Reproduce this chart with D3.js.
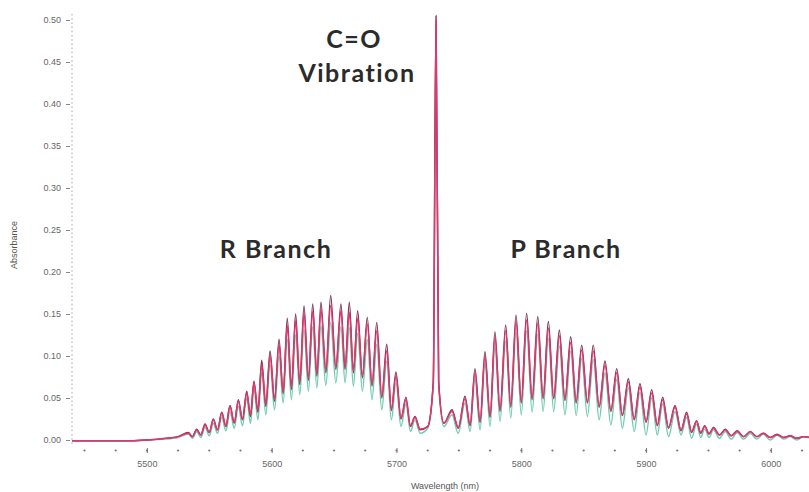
<!DOCTYPE html>
<html>
<head>
<meta charset="utf-8">
<script src="https://cdn.jsdelivr.net/npm/d3@7"></script>
<style>
  body { margin: 0; background: #fff; }
  svg { display: block; }
  .tick text { font-family: "Liberation Sans", Arial, sans-serif; font-size: 9px; fill: #666; }
</style>
</head>
<body>
<svg id="chart" width="809" height="492"></svg>
<script>
// spectrum nodes: alternating peak / trough positions of the rotational lines (nm)
var nodeWl = [
    5440, 5460, 5480, 5500, 5515, 5525,
    5533.2, 5536.5, 5539.9, 5543.2, 5546.6, 5550.0, 5553.2, 5556.6, 5560.0, 5563.3,
    5566.6, 5570.0, 5573.3, 5576.6, 5580.0, 5583.0, 5585.8, 5589.0, 5592.0, 5595.3,
    5598.7, 5602.3, 5605.9, 5609.2, 5612.5, 5615.8, 5619.2, 5622.5, 5625.9, 5629.4,
    5632.9, 5636.2, 5639.5, 5643.4, 5647.3, 5651.4, 5655.5, 5658.8, 5662.2, 5665.5,
    5668.9, 5672.7, 5676.6, 5680.4, 5684.2, 5688.2, 5692.2, 5695.9, 5699.6, 5703.6,
    5707.6, 5711.2, 5714.8, 5719.0,
    5725.0, 5729.5, 5731.7, 5733.8, 5738.0,
    5744.5, 5749.5, 5754.9, 5759.0, 5762.9, 5767.0, 5770.9, 5775.0, 5778.9, 5783.0,
    5787.5, 5791.6, 5795.8, 5800.0, 5804.3, 5808.7, 5813.2, 5817.5, 5821.7, 5826.0,
    5830.5, 5835.0, 5839.6, 5844.0, 5848.4, 5853.0, 5857.7, 5862.4, 5867.1, 5871.8,
    5876.5, 5881.0, 5885.8, 5890.5, 5895.1, 5900.0, 5904.5, 5909.0, 5913.3, 5918.0,
    5923.2, 5928.0, 5932.5, 5936.5, 5940.5, 5943.8, 5947.0, 5950.5, 5954.0, 5958.8,
    5963.5, 5968.2, 5973.0, 5978.2, 5983.5, 5988.8, 5994.0, 5999.5, 6005.0, 6010.2,
    6015.5, 6020.8, 6026.0, 6032.0
];

var absDark = [
    -0.001, -0.001, -0.001, 0.000, 0.002, 0.004,
    0.009, 0.004, 0.013, 0.006, 0.019, 0.009, 0.025, 0.012, 0.033, 0.016,
    0.041, 0.020, 0.048, 0.024, 0.058, 0.028, 0.070, 0.033, 0.095, 0.040,
    0.106, 0.046, 0.120, 0.055, 0.145, 0.060, 0.150, 0.066, 0.160, 0.071,
    0.162, 0.076, 0.164, 0.080, 0.172, 0.084, 0.162, 0.084, 0.164, 0.080,
    0.154, 0.074, 0.146, 0.064, 0.140, 0.050, 0.114, 0.035, 0.081, 0.025,
    0.051, 0.016, 0.028, 0.012,
    0.016, 0.070, 0.505, 0.070, 0.020,
    0.036, 0.014, 0.052, 0.017, 0.085, 0.021, 0.105, 0.027, 0.129, 0.034,
    0.137, 0.039, 0.149, 0.044, 0.151, 0.048, 0.147, 0.049, 0.141, 0.049,
    0.131, 0.047, 0.123, 0.044, 0.113, 0.044, 0.113, 0.039, 0.094, 0.034,
    0.085, 0.029, 0.073, 0.024, 0.067, 0.021, 0.060, 0.017, 0.051, 0.014,
    0.041, 0.011, 0.033, 0.009, 0.023, 0.008, 0.017, 0.007, 0.015, 0.006,
    0.013, 0.005, 0.011, 0.004, 0.010, 0.004, 0.008, 0.003, 0.007, 0.003,
    0.005, 0.002, 0.004, 0.003
];

var absRed = [
    -0.001, -0.001, -0.001, 0.000, 0.002, 0.004,
    0.008, 0.004, 0.012, 0.006, 0.018, 0.009, 0.024, 0.012, 0.032, 0.017,
    0.040, 0.021, 0.046, 0.025, 0.056, 0.030, 0.068, 0.035, 0.090, 0.043,
    0.100, 0.050, 0.113, 0.058, 0.136, 0.064, 0.142, 0.070, 0.150, 0.075,
    0.153, 0.080, 0.155, 0.084, 0.160, 0.088, 0.154, 0.087, 0.152, 0.083,
    0.145, 0.077, 0.138, 0.066, 0.130, 0.052, 0.106, 0.037, 0.076, 0.026,
    0.048, 0.017, 0.027, 0.013,
    0.016, 0.068, 0.500, 0.068, 0.020,
    0.034, 0.015, 0.049, 0.018, 0.080, 0.022, 0.099, 0.028, 0.122, 0.036,
    0.130, 0.041, 0.141, 0.046, 0.143, 0.050, 0.139, 0.051, 0.133, 0.050,
    0.124, 0.049, 0.116, 0.046, 0.107, 0.045, 0.106, 0.040, 0.089, 0.035,
    0.080, 0.030, 0.069, 0.025, 0.063, 0.022, 0.056, 0.018, 0.048, 0.015,
    0.039, 0.012, 0.031, 0.010, 0.022, 0.009, 0.016, 0.008, 0.014, 0.006,
    0.012, 0.005, 0.010, 0.004, 0.010, 0.004, 0.008, 0.003, 0.006, 0.003,
    0.005, 0.002, 0.004, 0.003
];

var absGreen = [
    -0.001, -0.001, -0.001, 0.000, 0.001, 0.003,
    0.007, 0.002, 0.010, 0.003, 0.015, 0.005, 0.020, 0.008, 0.027, 0.011,
    0.034, 0.014, 0.040, 0.017, 0.050, 0.020, 0.060, 0.024, 0.080, 0.030,
    0.090, 0.036, 0.100, 0.044, 0.120, 0.048, 0.125, 0.054, 0.132, 0.058,
    0.135, 0.062, 0.136, 0.065, 0.140, 0.068, 0.135, 0.068, 0.134, 0.064,
    0.127, 0.058, 0.120, 0.048, 0.114, 0.036, 0.094, 0.024, 0.068, 0.016,
    0.043, 0.010, 0.024, 0.008,
    0.014, 0.065, 0.495, 0.065, 0.016,
    0.030, 0.008, 0.044, 0.010, 0.072, 0.012, 0.090, 0.016, 0.110, 0.022,
    0.118, 0.026, 0.128, 0.030, 0.130, 0.033, 0.126, 0.034, 0.121, 0.034,
    0.112, 0.030, 0.106, 0.029, 0.097, 0.028, 0.096, 0.024, 0.080, 0.018,
    0.072, 0.014, 0.062, 0.010, 0.057, 0.006, 0.050, 0.006, 0.043, 0.004,
    0.034, 0.006, 0.027, 0.002, 0.019, 0.003, 0.013, 0.003, 0.012, 0.002,
    0.010, 0.001, 0.009, 0.001, 0.008, 0.001, 0.007, 0.000, 0.006, 0.001,
    0.004, 0.000, 0.004, 0.002
];

var yTicks = [0, 0.05, 0.10, 0.15, 0.20, 0.25, 0.30, 0.35, 0.40, 0.45, 0.50];
var xTicks = [5500, 5600, 5700, 5800, 5900, 6000];

var svg = d3.select("#chart");

var x = d3.scaleLinear().domain([5440, 6030]).range([72, 808.3]);
var y = d3.scaleLinear().domain([-0.0119, 0.5]).range([450, 20]);

// y axis: dotted spine with short dashes at the labelled values
var yAxis = svg.append("g")
    .attr("transform", "translate(72,0)")
    .call(d3.axisLeft(y).tickValues(yTicks).tickSize(5).tickPadding(6).tickFormat(d3.format(".2f")));
yAxis.select(".domain").remove();
yAxis.selectAll(".tick line").attr("stroke", "#888").attr("x2", -2).attr("x1", -6);

svg.append("line")
    .attr("x1", 72).attr("x2", 72)
    .attr("y1", 14).attr("y2", 446)
    .attr("stroke", "#c4c4c4")
    .attr("stroke-width", 1.5)
    .attr("stroke-dasharray", "1.5,2.7");

// x axis: dots every 25 nm, small marks at the labelled values
var xAxis = svg.append("g")
    .attr("transform", "translate(0,448)")
    .call(d3.axisBottom(x).tickValues(xTicks).tickSize(5).tickPadding(8).tickFormat(d3.format("d")));
xAxis.select(".domain").remove();
xAxis.selectAll(".tick line").attr("stroke", "#777");

svg.append("g").selectAll("circle")
    .data(d3.range(5450, 6030, 25))
    .join("circle")
    .attr("cx", d => x(d))
    .attr("cy", 450.5)
    .attr("r", 1.1)
    .attr("fill", "#8a6a78");

svg.append("text")
    .attr("transform", "translate(17,245) rotate(-90)")
    .attr("text-anchor", "middle")
    .style("font-family", "Liberation Sans, Arial, sans-serif")
    .style("font-size", "9px")
    .attr("fill", "#555")
    .text("Absorbance");

svg.append("text")
    .attr("x", 445).attr("y", 489)
    .attr("text-anchor", "middle")
    .style("font-family", "Liberation Sans, Arial, sans-serif")
    .style("font-size", "9px")
    .attr("fill", "#555")
    .text("Wavelength (nm)");

// the three overlaid scans
var line = d3.line()
    .x(d => x(d[0]))
    .y(d => y(d[1]))
    .curve(d3.curveMonotoneX);

var scans = [
    { vals: absGreen, color: "#6cccad", width: 1.4 },
    { vals: absDark, color: "#7c3454", width: 1.4 },
    { vals: absRed, color: "#e4356c", width: 1.5 }
];

svg.append("g").selectAll("path")
    .data(scans)
    .join("path")
    .attr("d", s => line(nodeWl.map((w, i) => [w, s.vals[i]])))
    .attr("fill", "none")
    .attr("stroke", s => s.color)
    .attr("stroke-width", s => s.width)
    .attr("stroke-linejoin", "round");

// band labels
var labels = [
    { t: "C=O", x: 354, y: 48 },
    { t: "Vibration", x: 357, y: 82 },
    { t: "R Branch", x: 276, y: 258 },
    { t: "P Branch", x: 566, y: 258 }
];
svg.append("g").selectAll("text")
    .data(labels)
    .join("text")
    .attr("x", d => d.x)
    .attr("y", d => d.y)
    .attr("text-anchor", "middle")
    .style("font-family", "Lato, sans-serif")
    .style("font-weight", "bold")
    .style("font-size", "25px")
    .style("letter-spacing", "1.5px")
    .attr("fill", "#2b2b2b")
    .text(d => d.t);
</script>
</body>
</html>
